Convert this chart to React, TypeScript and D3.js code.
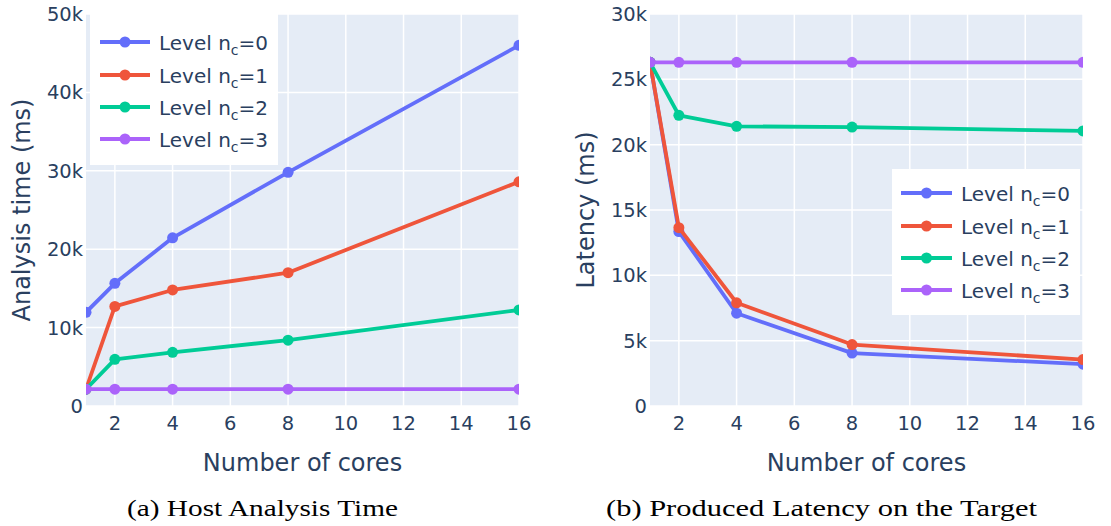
import React from "react";
import * as d3 from "d3";

const cores = [1, 2, 4, 8, 16];
const seriesNames = ["0", "1", "2", "3"];
const colors = ["#636efa", "#EF553B", "#00cc96", "#ab63fa"];

const hostNc0 = [11950, 15650, 21450, 29800, 46000];
const hostNc1 = [2150, 12700, 14800, 17000, 28600];
const hostNc2 = [2150, 5950, 6850, 8400, 12250];
const hostNc3 = [2150, 2150, 2150, 2150, 2150];

const latNc0 = [26300, 13350, 7100, 4050, 3200];
const latNc1 = [26300, 13650, 7900, 4700, 3550];
const latNc2 = [26300, 22250, 21400, 21350, 21050];
const latNc3 = [26300, 26300, 26300, 26300, 26300];

const xTicks = [2, 4, 6, 8, 10, 12, 14, 16];
const hostYTicks = [0, 10000, 20000, 30000, 40000, 50000];
const latYTicks = [0, 5000, 10000, 15000, 20000, 25000, 30000];

const TEXT = "#2a3f5f";
const SANS = "DejaVu Sans, Verdana, sans-serif";
const fmt = d3.format("~s");

type PanelProps = {
  id: string;
  left: number;
  right: number;
  top: number;
  bottom: number;
  yMax: number;
  yTicks: number[];
  series: number[][];
  yTitle: string;
  yTitleX: number;
  legend: { x0: number; x1: number; y0: number; y1: number; rows: number[]; lineX0: number; lineX1: number; textX: number };
  caption: string;
  captionX0: number;
  captionX1: number;
};

function Panel(p: PanelProps) {
  const x = d3.scaleLinear().domain([1, 16]).range([p.left, p.right]);
  const y = d3.scaleLinear().domain([0, p.yMax]).range([p.bottom, p.top]);
  const line = d3
    .line<number>()
    .x((_, i) => x(cores[i]))
    .y((d) => y(d));
  const cx = (p.left + p.right) / 2;
  const cy = (p.top + p.bottom) / 2;
  return (
    <g>
      <defs>
        <clipPath id={`clip-${p.id}`}>
          <rect x={p.left} y={p.top} width={p.right - p.left} height={p.bottom - p.top} />
        </clipPath>
      </defs>
      <rect x={p.left} y={p.top} width={p.right - p.left} height={p.bottom - p.top} fill="#E5ECF6" />
      {xTicks.map((t) => (
        <line key={`gx${t}`} x1={x(t)} x2={x(t)} y1={p.top} y2={p.bottom} stroke="#fff" strokeWidth={1.5} />
      ))}
      {p.yTicks.map((t) => (
        <line key={`gy${t}`} x1={p.left} x2={p.right} y1={y(t)} y2={y(t)} stroke="#fff" strokeWidth={1.5} />
      ))}
      <g clipPath={`url(#clip-${p.id})`}>
        {p.series.map((s, si) => (
          <g key={si}>
            <path d={line(s) || ""} fill="none" stroke={colors[si]} strokeWidth={3.8} strokeLinejoin="round" />
            {s.map((v, i) => (
              <circle key={i} cx={x(cores[i])} cy={y(v)} r={5.5} fill={colors[si]} />
            ))}
          </g>
        ))}
      </g>
      {xTicks.map((t) => (
        <text key={`tx${t}`} x={x(t)} y={430} textAnchor="middle" fontFamily={SANS} fontSize={19.5} fill={TEXT}>
          {t}
        </text>
      ))}
      {p.yTicks.map((t) => (
        <text key={`ty${t}`} x={p.left - 3} y={y(t) + 7} textAnchor="end" fontFamily={SANS} fontSize={19.5} fill={TEXT}>
          {fmt(t)}
        </text>
      ))}
      <text x={cx} y={471} textAnchor="middle" fontFamily={SANS} fontSize={24} fill={TEXT}>
        Number of cores
      </text>
      <text
        transform={`translate(${p.yTitleX},${cy}) rotate(-90)`}
        textAnchor="middle"
        fontFamily={SANS}
        fontSize={24}
        fill={TEXT}
      >
        {p.yTitle}
      </text>
      <rect x={p.legend.x0} y={p.legend.y0} width={p.legend.x1 - p.legend.x0} height={p.legend.y1 - p.legend.y0} fill="#fff" />
      {seriesNames.map((n, i) => {
        const ry = p.legend.rows[i];
        return (
          <g key={`lg${i}`}>
            <line x1={p.legend.lineX0} x2={p.legend.lineX1} y1={ry} y2={ry} stroke={colors[i]} strokeWidth={3.8} />
            <circle cx={(p.legend.lineX0 + p.legend.lineX1) / 2} cy={ry} r={5.5} fill={colors[i]} />
            <text x={p.legend.textX} y={ry + 8} fontFamily={SANS} fontSize={20} fill={TEXT}>
              Level n
              <tspan fontSize={14} dy={5}>c</tspan>
              <tspan dy={-5}>={n}</tspan>
            </text>
          </g>
        );
      })}
      <text
        x={p.captionX0}
        y={516}
        fontFamily="Liberation Serif, Times New Roman, serif"
        fontSize={23}
        fill="#000"
        textLength={p.captionX1 - p.captionX0}
        lengthAdjust="spacingAndGlyphs"
      >
        {p.caption}
      </text>
    </g>
  );
}

export default function App() {
  return (
    <svg width={1111} height={526} style={{ position: "absolute", left: 0, top: 0, background: "#fff" }}>
      <Panel
        id="a"
        left={86}
        right={519}
        top={14}
        bottom={406}
        yMax={50000}
        yTicks={hostYTicks}
        series={[hostNc0, hostNc1, hostNc2, hostNc3]}
        yTitle="Analysis time (ms)"
        yTitleX={30}
        legend={{ x0: 90, x1: 278, y0: 14, y1: 165, rows: [42, 75, 107, 139], lineX0: 100, lineX1: 150, textX: 159 }}
        caption="(a) Host Analysis Time"
        captionX0={127}
        captionX1={398}
      />
      <Panel
        id="b"
        left={650}
        right={1083}
        top={14}
        bottom={406}
        yMax={30000}
        yTicks={latYTicks}
        series={[latNc0, latNc1, latNc2, latNc3]}
        yTitle="Latency (ms)"
        yTitleX={594}
        legend={{ x0: 892, x1: 1080, y0: 169, y1: 315, rows: [193, 226, 258, 290], lineX0: 901, lineX1: 952, textX: 961 }}
        caption="(b) Produced Latency on the Target"
        captionX0={606}
        captionX1={1037}
      />
    </svg>
  );
}
